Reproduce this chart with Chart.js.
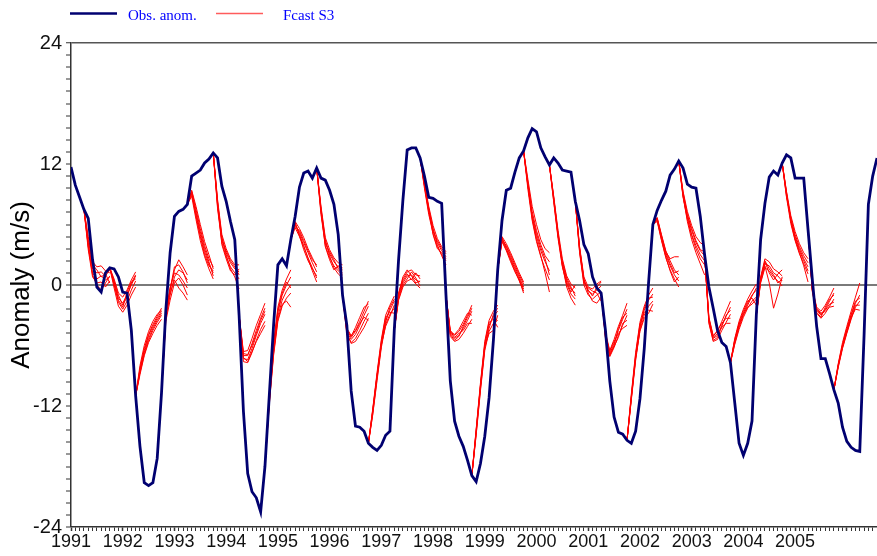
<!DOCTYPE html>
<html>
<head>
<meta charset="utf-8">
<script src="https://cdn.jsdelivr.net/npm/chart.js@4.4.1/dist/chart.umd.min.js"></script>
<style>
    html, body { margin: 0; padding: 0; background: #ffffff; }
    #wrap { position: relative; width: 877px; height: 556px; }
</style>
</head>
<body>
<div id="wrap"><canvas id="anom-chart"></canvas></div>
<script>
// Monthly observed anomaly (m/s), Jan 1991 = month 0
const obsValues = [
    11.7, 9.9, 8.7, 7.5, 6.6, 2.5, -0.2, -0.7, 1.2, 1.7,
    1.6, 0.8, -0.7, -0.8, -4.5, -11.0, -16.0, -19.6, -19.9, -19.6,
    -17.2, -10.7, -2.5, 3.2, 6.8, 7.3, 7.5, 8.0, 10.8, 11.1,
    11.4, 12.1, 12.5, 13.1, 12.6, 9.8, 8.3, 6.3, 4.5, -3.0,
    -12.5, -18.7, -20.5, -21.1, -22.5, -18.0, -11.0, -4.0, 2.0, 2.6,
    1.9, 4.5, 6.8, 9.7, 11.1, 11.3, 10.6, 11.6, 10.6, 10.4,
    9.4, 8.0, 5.0, -1.0, -4.0, -10.5, -14.0, -14.1, -14.5, -15.7,
    -16.1, -16.4, -15.9, -14.9, -14.5, -4.5, 2.5, 8.4, 13.4, 13.6,
    13.6, 12.6, 10.8, 8.7, 8.6, 8.3, 8.1, -1.0, -9.5, -13.5,
    -15.0, -16.0, -17.4, -18.9, -19.5, -17.7, -15.0, -11.2, -5.5, 1.5,
    6.4, 9.4, 9.6, 11.2, 12.6, 13.3, 14.6, 15.5, 15.2, 13.6,
    12.7, 11.9, 12.6, 12.1, 11.4, 11.3, 11.2, 8.3, 6.4, 4.0,
    3.1, 0.8, -0.3, -0.8, -4.5, -9.5, -13.1, -14.6, -14.8, -15.4,
    -15.7, -14.5, -11.3, -6.3, 0.2, 6.0, 7.4, 8.4, 9.3, 10.9,
    11.5, 12.3, 11.6, 10.0, 9.7, 9.6, 6.8, 3.0, -0.2, -2.3,
    -4.5, -5.7, -6.1, -7.7, -11.7, -15.7, -16.9, -15.7, -13.5, -3.0,
    4.5, 8.1, 10.7, 11.3, 10.9, 12.1, 12.9, 12.6, 10.6, 10.6,
    10.6, 5.5, 0.5, -4.1, -7.3, -7.3, -8.8, -10.4, -11.7, -14.1,
    -15.5, -16.1, -16.4, -16.5, -5.0, 8.0, 10.8, 12.6
];

const yearLabels = ['1991', '1992', '1993', '1994', '1995', '1996', '1997', '1998',
    '1999', '2000', '2001', '2002', '2003', '2004', '2005'];

const yTickLabels = [-24, -12, 0, 12, 24];

// Forecast start months and initial values
const fcastStarts = [3, 9, 15, 21, 27, 33, 39, 45, 51, 57, 63, 69, 75, 81, 87,
    93, 99, 105, 111, 117, 123, 129, 135, 141, 147, 153, 159, 165, 171, 177];
const fcastInits = [7.5, 1.7, -11.0, -10.7, 8.0, 13.1, -3.0, -18.0, 4.5, 11.6, -1.0, -15.7, -4.5, 12.6, -1.0,
    -18.9, 1.5, 13.3, 11.9, 8.3, -0.8, -15.4, 6.0, 12.3, 3.0, -7.7, -3.0, 12.1, 5.5, -10.4];

// Ensemble members, months +1..+6 after each start
const fcastMembers = [
    [[4.8, 2.3, 1.8, 1.9, 1.4, 1.2], [4.2, 1.6, 1.2, 1.3, 0.9, 1.5], [3.8, 1.2, 0.6, 0.9, 0.5, 0.8],
     [3.5, 0.8, 0.2, 0.3, -0.2, 0.4], [4.5, 2.0, 1.5, 0.8, 1.1, 0.2], [3.9, 1.0, 0.0, -0.5, 0.2, 0.9]],
    [[0.6, -0.8, -1.2, -0.5, 0.5, 1.3], [0.3, -1.3, -1.8, -1.0, 0.0, 0.9], [0.0, -1.7, -2.4, -1.6, -0.5, 0.4],
     [-0.3, -2.1, -2.7, -2.0, -1.0, -0.2], [0.4, -1.0, -2.0, -1.2, 0.2, 1.0], [0.1, -1.5, -2.2, -0.7, 0.3, 0.6]],
    [[-8.3, -6.3, -4.9, -3.9, -3.1, -2.3], [-8.6, -6.7, -5.3, -4.3, -3.5, -2.8], [-8.9, -7.0, -5.7, -4.8, -4.0, -3.4],
     [-8.0, -6.0, -4.6, -3.6, -2.9, -2.5], [-8.7, -6.9, -5.5, -4.5, -3.7, -3.0], [-8.4, -6.5, -5.0, -4.1, -3.3, -2.6]],
    [[-3.0, -0.5, 1.5, 2.5, 1.8, 1.0], [-3.3, -1.0, 0.8, 1.5, 1.2, 0.5], [-2.7, -0.2, 1.2, 1.0, 0.4, -0.3],
     [-3.6, -1.5, 0.2, 0.7, 0.0, -1.0], [-3.2, -0.8, 0.5, -0.3, -0.8, -1.5], [-2.9, -0.4, 1.8, 2.0, 1.3, 0.2]],
    [[9.3, 7.5, 5.6, 3.9, 2.6, 1.8], [9.0, 7.0, 5.0, 3.3, 2.1, 1.2], [9.4, 7.8, 6.0, 4.3, 3.0, 1.6],
     [8.8, 6.5, 4.4, 2.8, 1.6, 0.6], [9.1, 7.2, 5.3, 3.6, 2.3, 0.9], [9.2, 6.8, 4.8, 3.0, 1.9, 1.4]],
    [[8.5, 5.0, 3.6, 2.6, 2.0, 2.0], [8.0, 4.6, 3.2, 2.2, 1.6, 1.3], [7.6, 4.2, 2.8, 1.8, 1.2, 0.6],
     [8.2, 4.8, 3.0, 1.6, 0.8, -0.4], [7.8, 4.4, 3.4, 2.4, 1.8, 1.0], [8.3, 4.0, 2.6, 1.4, 1.0, 1.6]],
    [[-6.6, -6.5, -5.3, -4.0, -2.9, -1.8], [-7.0, -7.0, -5.8, -4.5, -3.3, -2.3], [-7.3, -7.4, -6.3, -5.0, -3.8, -2.9],
     [-7.6, -7.7, -6.7, -5.5, -4.4, -3.6], [-6.8, -6.9, -6.0, -4.8, -3.5, -2.6], [-7.2, -7.6, -6.6, -5.6, -4.8, -4.0]],
    [[-11.0, -5.8, -2.2, -0.5, 0.6, 1.5], [-11.3, -6.2, -2.7, -1.0, 0.0, 0.8], [-11.6, -6.6, -3.1, -1.5, -0.6, 0.0],
     [-11.9, -7.0, -3.6, -2.1, -1.3, -0.8], [-11.2, -6.0, -2.5, -0.8, 0.3, -0.3], [-11.7, -6.8, -3.4, -1.9, -1.6, -2.2]],
    [[6.3, 5.6, 4.7, 3.6, 2.7, 1.8], [6.0, 5.2, 4.2, 3.2, 2.2, 1.3], [5.7, 4.8, 3.8, 2.7, 1.7, 0.7],
     [6.1, 5.0, 3.9, 2.6, 1.4, 0.3], [5.8, 5.4, 4.4, 3.4, 2.5, 2.0], [6.2, 4.9, 3.5, 2.4, 1.6, 0.9]],
    [[7.8, 4.7, 3.5, 2.7, 2.2, 2.0], [7.4, 4.3, 3.1, 2.3, 1.8, 1.5], [7.0, 3.9, 2.7, 1.9, 1.4, 1.0],
     [7.6, 4.5, 2.9, 1.7, 1.1, 0.7], [7.2, 4.1, 3.3, 2.5, 1.6, 1.2], [7.5, 3.8, 2.5, 1.5, 1.9, 1.7]],
    [[-4.3, -5.0, -4.5, -3.6, -2.6, -1.6], [-4.6, -5.4, -4.9, -4.0, -3.0, -2.1], [-4.9, -5.7, -5.3, -4.5, -3.6, -2.8],
     [-4.4, -5.2, -4.6, -3.8, -3.2, -3.5], [-4.7, -5.8, -5.6, -4.9, -4.2, -3.3], [-4.5, -5.1, -4.2, -3.2, -2.2, -1.9]],
    [[-12.3, -8.7, -5.4, -3.0, -2.0, -1.1], [-12.6, -9.1, -5.8, -3.5, -2.5, -1.6], [-12.9, -9.5, -6.2, -3.9, -2.9, -2.3],
     [-12.5, -8.9, -5.6, -3.2, -2.7, -2.8], [-12.8, -9.3, -6.0, -3.7, -2.2, -1.4], [-12.4, -9.0, -5.9, -4.1, -3.1, -2.0]],
    [[-0.8, 0.6, 1.3, 1.5, 1.0, 0.9], [-1.2, 0.2, 0.9, 1.0, 0.5, 0.3], [-1.5, -0.2, 0.4, 0.6, 0.1, -0.3],
     [-1.0, 0.4, 1.1, 0.5, 1.2, 0.6], [-1.4, 0.0, 0.6, 1.3, 0.7, -0.1], [-0.9, 0.8, 1.5, 0.9, 0.2, 0.4]],
    [[10.2, 7.8, 5.9, 4.6, 3.8, 3.3], [9.9, 7.4, 5.5, 4.2, 3.4, 2.8], [9.6, 7.0, 5.1, 3.8, 3.0, 2.4],
     [10.0, 7.6, 5.6, 4.0, 2.9, 2.0], [9.8, 7.2, 5.3, 4.4, 3.6, 3.1], [10.1, 7.5, 5.0, 3.6, 3.2, 2.6]],
    [[-4.5, -5.0, -4.6, -3.9, -3.0, -2.0], [-4.8, -5.3, -5.0, -4.3, -3.5, -2.6], [-5.1, -5.6, -5.4, -4.8, -4.1, -3.4],
     [-4.6, -5.2, -4.8, -4.5, -3.8, -3.8], [-4.9, -5.5, -5.1, -4.1, -3.2, -2.3], [-4.7, -4.9, -4.4, -3.6, -2.8, -3.0]],
    [[-14.3, -9.7, -5.6, -3.5, -2.6, -2.0], [-14.6, -10.1, -6.0, -4.0, -3.1, -2.6], [-14.9, -10.5, -6.5, -4.6, -3.8, -3.5],
     [-14.5, -9.9, -5.8, -3.7, -3.4, -4.2], [-14.8, -10.3, -6.3, -4.3, -2.9, -2.3], [-14.4, -10.0, -6.1, -4.8, -4.5, -3.0]],
    [[4.8, 4.1, 3.2, 2.2, 1.2, 0.3], [4.6, 3.8, 2.8, 1.8, 0.8, -0.2], [4.4, 3.5, 2.5, 1.4, 0.4, -0.6],
     [4.7, 3.6, 2.6, 1.6, 0.6, -0.4], [4.5, 3.9, 3.0, 2.0, 1.0, 0.1], [4.3, 3.4, 2.3, 1.3, 0.5, -0.8]],
    [[10.5, 7.8, 6.0, 4.5, 3.6, 3.2], [10.2, 7.3, 5.4, 4.0, 2.9, 2.3], [9.8, 6.8, 4.8, 3.4, 2.3, 1.4],
     [9.5, 6.4, 4.3, 2.8, 1.6, 0.5], [9.9, 6.6, 4.5, 2.9, 1.2, -0.7], [10.0, 7.0, 5.1, 3.7, 2.6, 1.0]],
    [[8.8, 5.4, 2.6, 0.9, 0.1, -0.3], [8.5, 5.0, 2.2, 0.5, -0.4, -0.8], [8.2, 4.6, 1.8, 0.1, -0.9, -1.4],
     [8.6, 5.2, 2.0, -0.2, -1.3, -2.0], [8.3, 4.8, 2.4, 0.7, -0.2, -1.1], [8.7, 4.9, 1.9, 0.3, -0.7, 0.0]],
    [[3.8, 0.8, -0.2, -0.4, 0.1, 0.4], [3.5, 0.4, -0.6, -0.9, -0.5, -0.1], [3.2, 0.0, -1.0, -1.4, -1.0, -0.7],
     [3.6, 0.6, -0.8, -1.6, -1.8, -1.2], [3.3, 0.2, -0.3, -0.6, -0.8, -1.6], [3.7, 0.5, -0.5, -1.1, -0.2, 0.3]],
    [[-4.7, -6.5, -5.4, -4.1, -3.0, -1.8], [-5.0, -6.8, -5.8, -4.5, -3.4, -2.4], [-5.3, -7.1, -6.2, -5.0, -4.0, -3.0],
     [-4.9, -6.6, -5.6, -4.8, -4.3, -4.0], [-5.2, -7.0, -6.0, -4.3, -3.2, -2.8], [-5.1, -6.9, -6.1, -5.2, -3.8, -3.5]],
    [[-10.8, -6.7, -3.7, -2.1, -1.0, -0.3], [-11.1, -7.1, -4.1, -2.5, -1.5, -0.9], [-11.4, -7.5, -4.5, -3.0, -2.1, -1.6],
     [-11.0, -6.9, -3.9, -2.7, -2.5, -2.6], [-11.3, -7.3, -4.3, -2.3, -1.3, -1.2], [-11.2, -7.2, -4.6, -3.3, -2.8, -1.9]],
    [[6.7, 5.0, 3.4, 2.4, 1.5, 1.0], [6.5, 4.7, 3.0, 1.9, 1.0, 0.4], [6.3, 4.4, 2.7, 1.5, 0.6, -0.2],
     [6.6, 4.9, 3.3, 2.6, 2.8, 2.8], [6.4, 4.5, 2.8, 1.4, 0.3, 0.8], [6.6, 4.8, 3.2, 2.1, 1.2, 1.4]],
    [[9.3, 7.3, 5.9, 4.8, 4.2, 3.9], [9.0, 6.9, 5.4, 4.2, 3.4, 2.9], [8.7, 6.5, 4.9, 3.6, 2.6, 2.0],
     [8.9, 6.3, 4.5, 3.2, 2.1, 1.0], [9.2, 7.0, 5.6, 4.4, 3.5, 3.3], [8.8, 6.7, 5.0, 3.9, 3.0, 2.4]],
    [[-3.2, -5.0, -4.6, -3.6, -2.6, -1.6], [-3.5, -5.3, -5.0, -4.0, -3.1, -2.2], [-3.8, -5.6, -5.4, -4.5, -3.7, -2.9],
     [-3.4, -5.2, -4.8, -4.2, -3.8, -3.8], [-3.7, -5.5, -5.2, -4.1, -3.0, -2.5], [-3.3, -5.1, -4.5, -3.8, -3.3, -3.3]],
    [[-5.3, -3.6, -2.4, -1.4, -0.6, 0.1], [-5.6, -4.0, -2.8, -1.8, -1.0, -0.5], [-5.9, -4.4, -3.2, -2.3, -1.6, -1.2],
     [-5.5, -3.8, -2.6, -1.6, -1.3, -2.0], [-5.8, -4.2, -3.0, -2.0, -1.1, -0.3], [-5.4, -3.9, -2.9, -2.2, -1.9, -1.4]],
    [[0.8, 2.6, 2.3, 1.6, 1.3, 0.9], [0.5, 2.1, 1.9, 1.2, 0.9, 0.4], [0.2, 1.7, 1.4, 0.8, 0.4, -0.1],
     [0.6, 2.3, 1.2, 0.5, 1.1, 1.5], [0.3, 1.9, 0.2, -2.3, -0.9, 0.8], [0.7, 2.4, 1.6, 1.0, 0.2, 0.6]],
    [[9.3, 6.9, 5.3, 4.1, 3.2, 2.6], [9.0, 6.5, 4.8, 3.6, 2.6, 1.8], [8.7, 6.1, 4.4, 3.1, 2.1, 1.1],
     [9.1, 6.3, 4.5, 3.2, 1.9, 0.3], [8.8, 6.7, 5.0, 3.8, 2.9, 2.2], [9.2, 6.4, 4.6, 3.4, 2.4, 1.4]],
    [[-0.3, -2.2, -2.6, -2.0, -1.2, -0.3], [-0.5, -2.5, -3.0, -2.4, -1.6, -0.8], [-0.7, -2.8, -3.3, -2.8, -2.1, -1.4],
     [-0.4, -2.4, -2.9, -2.6, -2.2, -2.1], [-0.6, -2.7, -3.2, -2.2, -1.4, -1.0], [-0.5, -2.3, -2.8, -2.5, -1.9, -1.7]],
    [[-7.8, -5.7, -4.1, -2.6, -1.2, 0.2], [-8.0, -6.0, -4.5, -3.0, -1.8, -1.0], [-8.2, -6.3, -4.8, -3.4, -2.2, -1.6],
     [-8.1, -6.1, -4.6, -3.2, -2.4, -2.5], [-7.9, -5.9, -4.3, -2.9, -1.6, -1.3], [-8.0, -6.2, -4.7, -3.3, -2.0, -2.0]]
];

document.addEventListener('DOMContentLoaded', function() {
    const colors = {
        obs: '#000070',
        fcast: '#ff0000',
        legendText: '#0000ff',
        axis: '#333333',
        zeroLine: '#7a7a7a'
    };

    // observed series as x/y points
    const obsPoints = obsValues.map(function(v, i) { return { x: i, y: v }; });

    // all members in one dataset, broken by null gaps
    const fcastPoints = [];
    fcastStarts.forEach(function(start, p) {
        fcastMembers[p].forEach(function(member) {
            fcastPoints.push({ x: start, y: fcastInits[p] });
            member.forEach(function(v, k) {
                fcastPoints.push({ x: start + k + 1, y: v });
            });
            fcastPoints.push({ x: start + member.length, y: null });
        });
    });

    const lastMonth = obsValues.length - 1;

    function isMultiple(value, step) {
        return Math.abs(value / step - Math.round(value / step)) < 1e-6;
    }

    // legend drawn across the top, lines + blue serif text
    const topLegend = {
        id: 'topLegend',
        afterDraw: function(chart) {
            const ctx = chart.ctx;
            const items = [
                { x0: 70, x1: 117, tx: 128, width: 2.6 },
                { x0: 216, x1: 263, tx: 283, width: 1.4 }
            ];
            ctx.save();
            ctx.font = '15px "Liberation Serif", "Times New Roman", serif';
            ctx.textBaseline = 'alphabetic';
            chart.data.datasets.forEach(function(ds, i) {
                const it = items[i];
                ctx.strokeStyle = i === 0 ? ds.borderColor : '#ff5c5c';
                ctx.lineWidth = it.width;
                ctx.beginPath();
                ctx.moveTo(it.x0, 13.5);
                ctx.lineTo(it.x1, 13.5);
                ctx.stroke();
                ctx.fillStyle = colors.legendText;
                ctx.fillText(ds.label, it.tx, 20);
            });
            ctx.restore();
        }
    };

    const ctxEl = document.getElementById('anom-chart');
    new Chart(ctxEl, {
        type: 'line',
        data: {
            datasets: [
                {
                    label: 'Obs. anom.',
                    data: obsPoints,
                    borderColor: colors.obs,
                    borderWidth: 2.8,
                    pointRadius: 0,
                    tension: 0,
                    spanGaps: false
                },
                {
                    label: 'Fcast S3',
                    data: fcastPoints,
                    borderColor: colors.fcast,
                    borderWidth: 1,
                    pointRadius: 0,
                    tension: 0,
                    spanGaps: false
                }
            ]
        },
        options: {
            responsive: true,
            maintainAspectRatio: false,
            animation: false,
            layout: {
                padding: { top: 43, right: 0, bottom: 0, left: 0 }
            },
            plugins: {
                legend: { display: false },
                tooltip: { enabled: false }
            },
            scales: {
                x: {
                    type: 'linear',
                    min: 0,
                    max: lastMonth,
                    afterFit: function(scale) { scale.height = 29; },
                    ticks: {
                        stepSize: 1,
                        autoSkip: false,
                        maxRotation: 0,
                        minRotation: 0,
                        padding: 0,
                        color: '#111111',
                        font: { family: '"Liberation Sans", Arial, sans-serif', size: 18 },
                        callback: function(value) {
                            const m = Math.round(value);
                            if (m % 12 === 0 && m / 12 < yearLabels.length) {
                                return yearLabels[m / 12];
                            }
                            return '';
                        }
                    },
                    grid: {
                        drawOnChartArea: false,
                        drawTicks: true,
                        tickLength: 4,
                        tickColor: colors.axis,
                        tickWidth: function(c) {
                            return c.tick && Math.round(c.tick.value) % 12 === 0 ? 1.5 : 1;
                        }
                    },
                    border: { color: colors.axis, width: 1.5 }
                },
                y: {
                    min: -24,
                    max: 24,
                    afterFit: function(scale) { scale.width = 71; },
                    ticks: {
                        stepSize: 1.2,
                        autoSkip: false,
                        padding: 4,
                        color: '#111111',
                        font: { family: '"Liberation Sans", Arial, sans-serif', size: 20 },
                        callback: function(value) {
                            for (let i = 0; i < yTickLabels.length; i++) {
                                if (Math.abs(value - yTickLabels[i]) < 1e-6) return String(yTickLabels[i]);
                            }
                            return '';
                        }
                    },
                    grid: {
                        drawTicks: true,
                        tickLength: 5,
                        tickColor: colors.axis,
                        tickWidth: 1,
                        color: function(c) {
                            if (!c.tick) return 'rgba(0,0,0,0)';
                            if (Math.abs(c.tick.value) < 1e-6) return colors.zeroLine;
                            if (c.tick.value > 23.9) return '#555555';
                            return 'rgba(0,0,0,0)';
                        },
                        lineWidth: function(c) {
                            if (!c.tick) return 0;
                            if (Math.abs(c.tick.value) < 1e-6) return 2;
                            if (c.tick.value > 23.9) return 1.5;
                            return 0;
                        }
                    },
                    border: { color: colors.axis, width: 1.5 },
                    title: {
                        display: true,
                        text: 'Anomaly (m/s)',
                        color: '#000000',
                        padding: { top: 6, bottom: 0 },
                        font: { family: '"Liberation Sans", Arial, sans-serif', size: 26 }
                    }
                }
            }
        },
        plugins: [topLegend]
    });
});
</script>
</body>
</html>
